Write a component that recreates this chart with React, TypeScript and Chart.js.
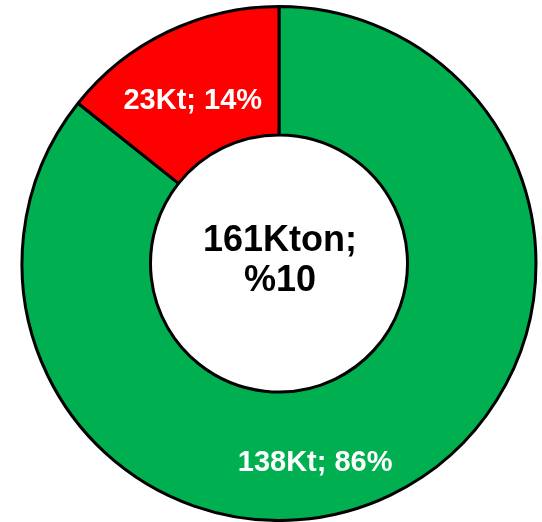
import React, { useEffect, useRef } from "react";
import { Chart, registerables } from "chart.js";

Chart.register(...registerables);

const categories = ["Green", "Red"];
const values = [138, 23];
const centerLines = ["161Kton;", "%10"];
const colors = ["#00B050", "#FF0000"];
// label shift from each arc's centroid (px)
const labelShift = [
  [-47.5, 23.4],
  [-2.6, 8.6],
];

const FONT = '"Liberation Sans", Arial, sans-serif';

export default function App() {
  const ref = useRef<HTMLCanvasElement | null>(null);

  useEffect(() => {
    if (!ref.current) return;
    const total = values.reduce((a, b) => a + b, 0);

    const labelPlugin = {
      id: "labels",
      afterDatasetsDraw(chart: any) {
        const ctx = chart.ctx;
        const meta = chart.getDatasetMeta(0);
        ctx.save();
        ctx.textAlign = "center";
        ctx.textBaseline = "alphabetic";
        const fs = 29;
        ctx.font = `bold ${fs}px ${FONT}`;
        ctx.fillStyle = "#FFFFFF";
        meta.data.forEach((arc: any, i: number) => {
          const p = arc.tooltipPosition();
          const pct = Math.round((values[i] / total) * 100);
          const txt = `${values[i]}Kt; ${pct}%`;
          const x = p.x + labelShift[i][0];
          const y = p.y + labelShift[i][1] + fs * 0.358;
          ctx.fillText(txt, x, y);
        });
        // center text
        const arc0 = meta.data[0];
        const cx = arc0.x;
        const cy = arc0.y;
        const cfs = 36;
        ctx.font = `bold ${cfs}px ${FONT}`;
        ctx.fillStyle = "#000000";
        const lh = 40;
        const midY = cy - 5;
        ctx.fillText(centerLines[0], cx + 1, midY - lh / 2 + cfs * 0.358);
        ctx.fillText(centerLines[1], cx + 1, midY + lh / 2 + cfs * 0.358);
        ctx.restore();
      },
    };

    const chart = new Chart(ref.current, {
      type: "doughnut",
      data: {
        labels: categories,
        datasets: [
          {
            data: values,
            backgroundColor: colors,
            borderColor: "#000000",
            borderWidth: 3,
          },
        ],
      },
      options: {
        responsive: false,
        animation: false,
        cutout: "50%",
        layout: { padding: { left: 20, right: 4, top: 5, bottom: 0 } },
        plugins: {
          legend: { display: false },
          tooltip: { enabled: false },
        },
      },
      plugins: [labelPlugin],
    });
    return () => chart.destroy();
  }, []);

  return (
    <div style={{ position: "fixed", left: 0, top: 0, width: 542, height: 522, background: "#fff" }}>
      <canvas ref={ref} width={542} height={522} style={{ display: "block" }} />
    </div>
  );
}
